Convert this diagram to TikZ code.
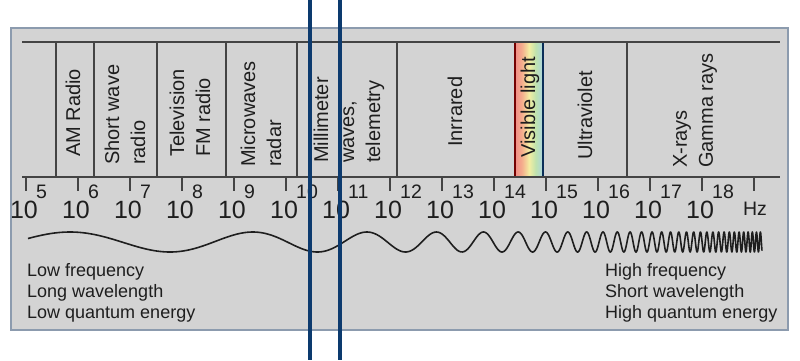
\documentclass[tikz,border=0pt]{standalone}
\usepackage{fontspec}
\setmainfont{Liberation Sans}
\definecolor{boxfill}{HTML}{D3D3D3}
\definecolor{boxedge}{HTML}{8C9BAE}
\definecolor{ink}{HTML}{1E1E1E}
\definecolor{linec}{HTML}{444444}
\definecolor{navy}{HTML}{0C3A6E}
\definecolor{vr}{HTML}{F08282}
\definecolor{vo}{HTML}{F5B08E}
\definecolor{vy}{HTML}{F4EEA2}
\definecolor{vg}{HTML}{BFE2AE}
\definecolor{vc}{HTML}{AAD4E6}
\definecolor{vb}{HTML}{9AA8E4}
\pgfdeclarehorizontalshading{visible}{100bp}{color(0bp)=(vr); color(22bp)=(vr); color(38bp)=(vo); color(50bp)=(vy); color(62bp)=(vg); color(76bp)=(vc); color(100bp)=(vb)}
\begin{document}
\begin{tikzpicture}[x=1pt,y=-1pt,
  lbl/.style={rotate=90, anchor=west, inner sep=0pt, align=left, font=\fontsize{20}{26}\selectfont, text=ink},
  tenstyle/.style={anchor=base, inner sep=0pt, font=\fontsize{25}{25}\selectfont, text=ink},
  expo/.style={anchor=base west, inner sep=0pt, font=\fontsize{19.5}{19.5}\selectfont, text=ink},
  captxt/.style={anchor=base west, inner sep=0pt, font=\fontsize{18}{21}\selectfont, text=ink},
  bandline/.style={draw=linec, line width=2pt},
  divider/.style={draw=linec, line width=1.5pt},
  wave/.style={draw=ink, line width=1.6pt},
  navyline/.style={draw=navy, line width=4pt}]
\useasboundingbox (0,0) rectangle (800,360);
\fill[white] (0,0) rectangle (800,360);
% outer panel
\draw[fill=boxfill, draw=boxedge, line width=1.5pt] (11,28) rectangle (788,330);
% visible light strip
\shade[shading=visible] (515,42) rectangle (543,177);
\draw[draw=red!45!black, line width=1.5pt] (515,42) -- (515,177);
\draw[draw=navy!80!black, line width=1.5pt] (543,42) -- (543,177);
% band lines
\draw[bandline] (22,42) -- (780,42);
\draw[bandline] (22,177) -- (780,177);
\foreach \xx in {56,94,157,226,297,397,627}
  \draw[divider] (\xx,42) -- (\xx,177);
% band labels
\node[lbl] (am) at (73,157) {AM Radio};
\node[lbl] (sw) at (125,165) {Short wave\\radio};
\node[lbl] (tv) at (190,157) {Television\\FM radio};
\node[lbl] (mw) at (261,167) {Microwaves\\radar};
\node[lbl] (mm) at (349,163) {Millimeter\\waves,\\telemetry};
\node[lbl] (ir) at (455,147) {Inrrared};
\node[lbl] (vis) at (530,158) {Visible light};
\node[lbl] (uv) at (585,160) {Ultraviolet};
\node[lbl] (xr) at (695,168) {X-rays\\Gamma rays};
% ticks and frequency labels
\foreach \k in {0,...,14}
  \draw[divider] ({26+52*\k},177) -- ({26+52*\k},191);
\foreach \k in {0,...,13} {
  \pgfmathtruncatemacro\ex{\k+5}
  \node[tenstyle] (b\k) at ({24+52*\k},218) {10};
  \node[expo] (e\k) at ({36+52*\k},198) {\ex};
}
\node[expo, anchor=base] (hz) at (755,215) {Hz};
% chirp wave
\draw[wave, line join=round] plot[domain=28:480, samples=260]
  (\x, {242-10*cos(180*(0.008356*(\x-70)+0.1126*(exp(0.009*(\x-70))-1)))})
  -- plot[domain=480:762, samples=1400]
  (\x, {242-10*cos(180*(0.008356*(\x-70)+0.1126*(exp(0.009*(\x-70))-1)))});
% captions
\node[captxt] (lf) at (27,276) {Low frequency};
\node[captxt] (lw) at (27,297) {Long wavelength};
\node[captxt] (lq) at (27,318) {Low quantum energy};
\node[captxt] (hf) at (605,276) {High frequency};
\node[captxt] (sl) at (605,297) {Short wavelength};
\node[captxt] (hq) at (605,318) {High quantum energy};
% navy overlay lines
\coordinate (n1t) at (309.5,0);
\coordinate (n1b) at (309.5,360);
\coordinate (n2t) at (340,0);
\coordinate (n2b) at (340,360);
\draw[navyline] (n1t) -- (n1b);
\draw[navyline] (n2t) -- (n2b);
\end{tikzpicture}
\end{document}
